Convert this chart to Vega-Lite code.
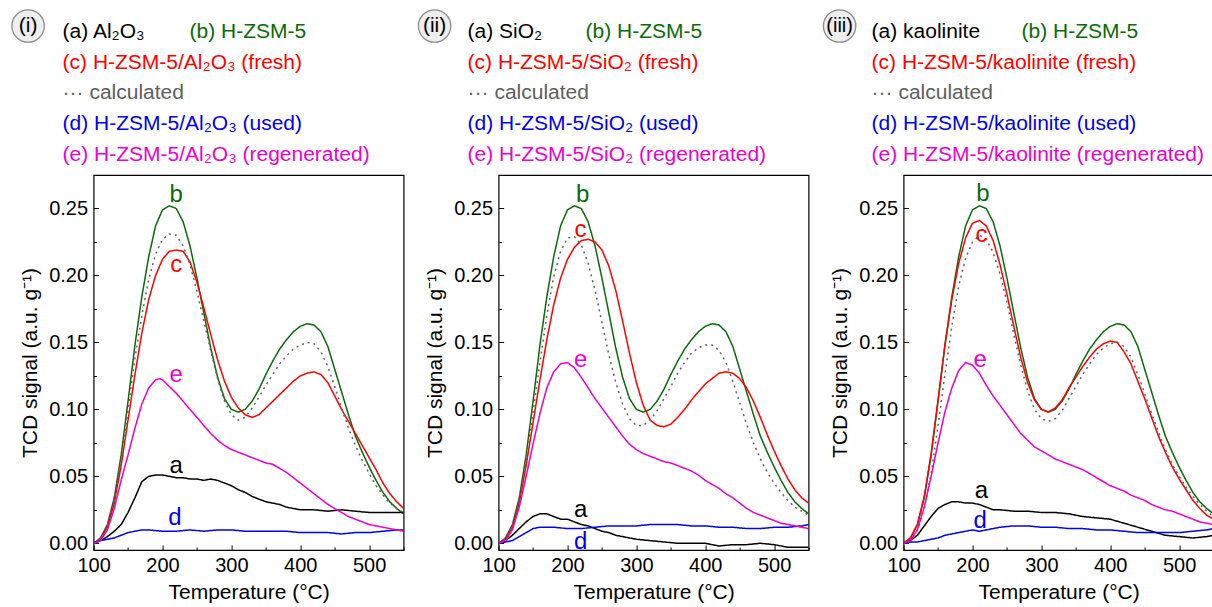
{
"$schema": "https://vega.github.io/schema/vega-lite/v6.json",
"background": "white",
"autosize": {"type": "pad"},
"padding": {"left": 8.6, "top": 0, "right": 0, "bottom": 0},
"config": {
  "font": "Liberation Sans",
  "view": {"stroke": "#000000", "strokeWidth": 1.2},
  "axis": {"domain": false, "grid": false, "tickColor": "#000000", "tickWidth": 1, "tickSize": -5, "labelColor": "#000000", "titleColor": "#000000", "labelFont": "Liberation Sans", "titleFont": "Liberation Sans", "labelFontSize": 20, "titleFontSize": 21, "titleFontWeight": "normal"}
},
"datasets": {
"legend": [
{"p":"i","line":1,"col":0,"txt":"(i)","s":"o"},
{"p":"i","line":1,"col":1,"txt":"(a) Al₂O₃","s":"a"},
{"p":"i","line":1,"col":2,"txt":"(b) H-ZSM-5","s":"b"},
{"p":"i","line":2,"col":1,"txt":"(c) H-ZSM-5/Al₂O₃ (fresh)","s":"c"},
{"p":"i","line":3,"col":1,"txt":"··· calculated","s":"k"},
{"p":"i","line":4,"col":1,"txt":"(d) H-ZSM-5/Al₂O₃ (used)","s":"d"},
{"p":"i","line":5,"col":1,"txt":"(e) H-ZSM-5/Al₂O₃ (regenerated)","s":"e"},
{"p":"ii","line":1,"col":0,"txt":"(ii)","s":"o"},
{"p":"ii","line":1,"col":1,"txt":"(a) SiO₂","s":"a"},
{"p":"ii","line":1,"col":2,"txt":"(b) H-ZSM-5","s":"b"},
{"p":"ii","line":2,"col":1,"txt":"(c) H-ZSM-5/SiO₂ (fresh)","s":"c"},
{"p":"ii","line":3,"col":1,"txt":"··· calculated","s":"k"},
{"p":"ii","line":4,"col":1,"txt":"(d) H-ZSM-5/SiO₂ (used)","s":"d"},
{"p":"ii","line":5,"col":1,"txt":"(e) H-ZSM-5/SiO₂ (regenerated)","s":"e"},
{"p":"iii","line":1,"col":0,"txt":"(iii)","s":"o"},
{"p":"iii","line":1,"col":1,"txt":"(a) kaolinite","s":"a"},
{"p":"iii","line":1,"col":2,"txt":"(b) H-ZSM-5","s":"b"},
{"p":"iii","line":2,"col":1,"txt":"(c) H-ZSM-5/kaolinite (fresh)","s":"c"},
{"p":"iii","line":3,"col":1,"txt":"··· calculated","s":"k"},
{"p":"iii","line":4,"col":1,"txt":"(d) H-ZSM-5/kaolinite (used)","s":"d"},
{"p":"iii","line":5,"col":1,"txt":"(e) H-ZSM-5/kaolinite (regenerated)","s":"e"}
],
"labels": [
{"p":"i","s":"b","t":220,"v":0.260},
{"p":"i","s":"c","t":220,"v":0.208},
{"p":"i","s":"e","t":220,"v":0.126},
{"p":"i","s":"a","t":220,"v":0.058},
{"p":"i","s":"d","t":218,"v":0.019},
{"p":"ii","s":"b","t":222,"v":0.260},
{"p":"ii","s":"c","t":219,"v":0.234},
{"p":"ii","s":"e","t":219,"v":0.137},
{"p":"ii","s":"a","t":219,"v":0.025},
{"p":"ii","s":"d","t":219,"v":0.001},
{"p":"iii","s":"b","t":215,"v":0.261},
{"p":"iii","s":"c","t":213,"v":0.230},
{"p":"iii","s":"e","t":211,"v":0.137},
{"p":"iii","s":"a","t":213,"v":0.039},
{"p":"iii","s":"d","t":211,"v":0.017}
],
"curves": [
{"p":"all","s":"b","t":100,"v":0.000},{"p":"all","s":"b","t":110,"v":0.004},{"p":"all","s":"b","t":120,"v":0.014},{"p":"all","s":"b","t":130,"v":0.034},{"p":"all","s":"b","t":140,"v":0.066},{"p":"all","s":"b","t":150,"v":0.106},{"p":"all","s":"b","t":160,"v":0.148},{"p":"all","s":"b","t":170,"v":0.184},{"p":"all","s":"b","t":180,"v":0.214},{"p":"all","s":"b","t":190,"v":0.237},{"p":"all","s":"b","t":200,"v":0.249},{"p":"all","s":"b","t":210,"v":0.252},{"p":"all","s":"b","t":220,"v":0.250},{"p":"all","s":"b","t":230,"v":0.240},{"p":"all","s":"b","t":240,"v":0.222},{"p":"all","s":"b","t":250,"v":0.198},{"p":"all","s":"b","t":260,"v":0.172},{"p":"all","s":"b","t":270,"v":0.146},{"p":"all","s":"b","t":280,"v":0.124},{"p":"all","s":"b","t":290,"v":0.108},{"p":"all","s":"b","t":300,"v":0.100},{"p":"all","s":"b","t":310,"v":0.098},{"p":"all","s":"b","t":320,"v":0.100},{"p":"all","s":"b","t":330,"v":0.106},{"p":"all","s":"b","t":340,"v":0.115},{"p":"all","s":"b","t":350,"v":0.126},{"p":"all","s":"b","t":360,"v":0.136},{"p":"all","s":"b","t":370,"v":0.145},{"p":"all","s":"b","t":380,"v":0.152},{"p":"all","s":"b","t":390,"v":0.158},{"p":"all","s":"b","t":400,"v":0.162},{"p":"all","s":"b","t":410,"v":0.164},{"p":"all","s":"b","t":420,"v":0.163},{"p":"all","s":"b","t":430,"v":0.158},{"p":"all","s":"b","t":440,"v":0.147},{"p":"all","s":"b","t":450,"v":0.130},{"p":"all","s":"b","t":460,"v":0.113},{"p":"all","s":"b","t":470,"v":0.096},{"p":"all","s":"b","t":480,"v":0.080},{"p":"all","s":"b","t":490,"v":0.068},{"p":"all","s":"b","t":500,"v":0.057},{"p":"all","s":"b","t":510,"v":0.047},{"p":"all","s":"b","t":520,"v":0.038},{"p":"all","s":"b","t":530,"v":0.031},{"p":"all","s":"b","t":540,"v":0.026},{"p":"all","s":"b","t":550,"v":0.022},

{"p":"i","s":"a","t":100,"v":0.000},{"p":"i","s":"a","t":110,"v":0.002},{"p":"i","s":"a","t":120,"v":0.005},{"p":"i","s":"a","t":130,"v":0.009},{"p":"i","s":"a","t":140,"v":0.014},{"p":"i","s":"a","t":150,"v":0.023},{"p":"i","s":"a","t":160,"v":0.034},{"p":"i","s":"a","t":170,"v":0.046},{"p":"i","s":"a","t":180,"v":0.050},{"p":"i","s":"a","t":190,"v":0.051},{"p":"i","s":"a","t":200,"v":0.051},{"p":"i","s":"a","t":210,"v":0.050},{"p":"i","s":"a","t":220,"v":0.049},{"p":"i","s":"a","t":230,"v":0.049},{"p":"i","s":"a","t":240,"v":0.048},{"p":"i","s":"a","t":250,"v":0.048},{"p":"i","s":"a","t":260,"v":0.047},{"p":"i","s":"a","t":270,"v":0.048},{"p":"i","s":"a","t":280,"v":0.047},{"p":"i","s":"a","t":290,"v":0.045},{"p":"i","s":"a","t":300,"v":0.043},{"p":"i","s":"a","t":310,"v":0.040},{"p":"i","s":"a","t":320,"v":0.038},{"p":"i","s":"a","t":330,"v":0.035},{"p":"i","s":"a","t":340,"v":0.033},{"p":"i","s":"a","t":350,"v":0.031},{"p":"i","s":"a","t":360,"v":0.030},{"p":"i","s":"a","t":370,"v":0.029},{"p":"i","s":"a","t":380,"v":0.027},{"p":"i","s":"a","t":390,"v":0.026},{"p":"i","s":"a","t":400,"v":0.025},{"p":"i","s":"a","t":420,"v":0.025},{"p":"i","s":"a","t":440,"v":0.024},{"p":"i","s":"a","t":460,"v":0.025},{"p":"i","s":"a","t":480,"v":0.024},{"p":"i","s":"a","t":500,"v":0.023},{"p":"i","s":"a","t":520,"v":0.023},{"p":"i","s":"a","t":540,"v":0.023},{"p":"i","s":"a","t":550,"v":0.023},

{"p":"i","s":"c","t":100,"v":0.000},{"p":"i","s":"c","t":110,"v":0.003},{"p":"i","s":"c","t":120,"v":0.012},{"p":"i","s":"c","t":130,"v":0.030},{"p":"i","s":"c","t":140,"v":0.058},{"p":"i","s":"c","t":150,"v":0.092},{"p":"i","s":"c","t":160,"v":0.126},{"p":"i","s":"c","t":170,"v":0.157},{"p":"i","s":"c","t":180,"v":0.182},{"p":"i","s":"c","t":190,"v":0.200},{"p":"i","s":"c","t":200,"v":0.212},{"p":"i","s":"c","t":210,"v":0.218},{"p":"i","s":"c","t":220,"v":0.219},{"p":"i","s":"c","t":230,"v":0.218},{"p":"i","s":"c","t":240,"v":0.210},{"p":"i","s":"c","t":250,"v":0.195},{"p":"i","s":"c","t":260,"v":0.176},{"p":"i","s":"c","t":270,"v":0.156},{"p":"i","s":"c","t":280,"v":0.137},{"p":"i","s":"c","t":290,"v":0.121},{"p":"i","s":"c","t":300,"v":0.109},{"p":"i","s":"c","t":310,"v":0.101},{"p":"i","s":"c","t":320,"v":0.096},{"p":"i","s":"c","t":330,"v":0.094},{"p":"i","s":"c","t":340,"v":0.096},{"p":"i","s":"c","t":350,"v":0.101},{"p":"i","s":"c","t":360,"v":0.106},{"p":"i","s":"c","t":370,"v":0.111},{"p":"i","s":"c","t":380,"v":0.116},{"p":"i","s":"c","t":390,"v":0.121},{"p":"i","s":"c","t":400,"v":0.125},{"p":"i","s":"c","t":410,"v":0.127},{"p":"i","s":"c","t":420,"v":0.128},{"p":"i","s":"c","t":430,"v":0.126},{"p":"i","s":"c","t":440,"v":0.120},{"p":"i","s":"c","t":450,"v":0.110},{"p":"i","s":"c","t":460,"v":0.100},{"p":"i","s":"c","t":470,"v":0.091},{"p":"i","s":"c","t":480,"v":0.082},{"p":"i","s":"c","t":490,"v":0.073},{"p":"i","s":"c","t":500,"v":0.064},{"p":"i","s":"c","t":510,"v":0.055},{"p":"i","s":"c","t":520,"v":0.045},{"p":"i","s":"c","t":530,"v":0.037},{"p":"i","s":"c","t":540,"v":0.031},{"p":"i","s":"c","t":550,"v":0.026},

{"p":"i","s":"k","t":100,"v":0.000},{"p":"i","s":"k","t":110,"v":0.003},{"p":"i","s":"k","t":120,"v":0.013},{"p":"i","s":"k","t":130,"v":0.032},{"p":"i","s":"k","t":140,"v":0.062},{"p":"i","s":"k","t":150,"v":0.100},{"p":"i","s":"k","t":160,"v":0.138},{"p":"i","s":"k","t":170,"v":0.170},{"p":"i","s":"k","t":180,"v":0.197},{"p":"i","s":"k","t":190,"v":0.216},{"p":"i","s":"k","t":200,"v":0.227},{"p":"i","s":"k","t":210,"v":0.231},{"p":"i","s":"k","t":220,"v":0.230},{"p":"i","s":"k","t":230,"v":0.222},{"p":"i","s":"k","t":240,"v":0.208},{"p":"i","s":"k","t":250,"v":0.188},{"p":"i","s":"k","t":260,"v":0.166},{"p":"i","s":"k","t":270,"v":0.144},{"p":"i","s":"k","t":280,"v":0.123},{"p":"i","s":"k","t":290,"v":0.106},{"p":"i","s":"k","t":300,"v":0.096},{"p":"i","s":"k","t":310,"v":0.092},{"p":"i","s":"k","t":320,"v":0.094},{"p":"i","s":"k","t":330,"v":0.101},{"p":"i","s":"k","t":340,"v":0.109},{"p":"i","s":"k","t":350,"v":0.118},{"p":"i","s":"k","t":360,"v":0.126},{"p":"i","s":"k","t":370,"v":0.134},{"p":"i","s":"k","t":380,"v":0.140},{"p":"i","s":"k","t":390,"v":0.145},{"p":"i","s":"k","t":400,"v":0.148},{"p":"i","s":"k","t":410,"v":0.150},{"p":"i","s":"k","t":420,"v":0.149},{"p":"i","s":"k","t":430,"v":0.143},{"p":"i","s":"k","t":440,"v":0.132},{"p":"i","s":"k","t":450,"v":0.117},{"p":"i","s":"k","t":460,"v":0.101},{"p":"i","s":"k","t":470,"v":0.086},{"p":"i","s":"k","t":480,"v":0.073},{"p":"i","s":"k","t":490,"v":0.062},{"p":"i","s":"k","t":500,"v":0.052},{"p":"i","s":"k","t":510,"v":0.043},{"p":"i","s":"k","t":520,"v":0.036},{"p":"i","s":"k","t":530,"v":0.030},{"p":"i","s":"k","t":540,"v":0.026},{"p":"i","s":"k","t":550,"v":0.023},

{"p":"i","s":"d","t":100,"v":0.000},{"p":"i","s":"d","t":110,"v":0.002},{"p":"i","s":"d","t":120,"v":0.003},{"p":"i","s":"d","t":130,"v":0.004},{"p":"i","s":"d","t":140,"v":0.006},{"p":"i","s":"d","t":150,"v":0.008},{"p":"i","s":"d","t":160,"v":0.009},{"p":"i","s":"d","t":170,"v":0.010},{"p":"i","s":"d","t":180,"v":0.010},{"p":"i","s":"d","t":200,"v":0.009},{"p":"i","s":"d","t":220,"v":0.009},{"p":"i","s":"d","t":240,"v":0.010},{"p":"i","s":"d","t":260,"v":0.009},{"p":"i","s":"d","t":280,"v":0.010},{"p":"i","s":"d","t":300,"v":0.010},{"p":"i","s":"d","t":320,"v":0.009},{"p":"i","s":"d","t":340,"v":0.009},{"p":"i","s":"d","t":360,"v":0.009},{"p":"i","s":"d","t":380,"v":0.009},{"p":"i","s":"d","t":400,"v":0.008},{"p":"i","s":"d","t":420,"v":0.008},{"p":"i","s":"d","t":440,"v":0.008},{"p":"i","s":"d","t":460,"v":0.007},{"p":"i","s":"d","t":480,"v":0.008},{"p":"i","s":"d","t":500,"v":0.008},{"p":"i","s":"d","t":520,"v":0.009},{"p":"i","s":"d","t":540,"v":0.010},{"p":"i","s":"d","t":550,"v":0.010},

{"p":"i","s":"e","t":100,"v":0.000},{"p":"i","s":"e","t":110,"v":0.002},{"p":"i","s":"e","t":120,"v":0.010},{"p":"i","s":"e","t":130,"v":0.026},{"p":"i","s":"e","t":140,"v":0.047},{"p":"i","s":"e","t":150,"v":0.066},{"p":"i","s":"e","t":160,"v":0.086},{"p":"i","s":"e","t":170,"v":0.104},{"p":"i","s":"e","t":180,"v":0.116},{"p":"i","s":"e","t":190,"v":0.122},{"p":"i","s":"e","t":196,"v":0.123},{"p":"i","s":"e","t":200,"v":0.122},{"p":"i","s":"e","t":210,"v":0.117},{"p":"i","s":"e","t":220,"v":0.112},{"p":"i","s":"e","t":230,"v":0.106},{"p":"i","s":"e","t":240,"v":0.100},{"p":"i","s":"e","t":250,"v":0.094},{"p":"i","s":"e","t":260,"v":0.088},{"p":"i","s":"e","t":270,"v":0.082},{"p":"i","s":"e","t":280,"v":0.077},{"p":"i","s":"e","t":290,"v":0.073},{"p":"i","s":"e","t":300,"v":0.070},{"p":"i","s":"e","t":310,"v":0.068},{"p":"i","s":"e","t":320,"v":0.066},{"p":"i","s":"e","t":330,"v":0.064},{"p":"i","s":"e","t":340,"v":0.062},{"p":"i","s":"e","t":350,"v":0.060},{"p":"i","s":"e","t":360,"v":0.059},{"p":"i","s":"e","t":370,"v":0.056},{"p":"i","s":"e","t":380,"v":0.053},{"p":"i","s":"e","t":390,"v":0.049},{"p":"i","s":"e","t":400,"v":0.045},{"p":"i","s":"e","t":410,"v":0.041},{"p":"i","s":"e","t":420,"v":0.037},{"p":"i","s":"e","t":430,"v":0.033},{"p":"i","s":"e","t":440,"v":0.029},{"p":"i","s":"e","t":450,"v":0.026},{"p":"i","s":"e","t":460,"v":0.023},{"p":"i","s":"e","t":470,"v":0.020},{"p":"i","s":"e","t":480,"v":0.018},{"p":"i","s":"e","t":490,"v":0.016},{"p":"i","s":"e","t":500,"v":0.014},{"p":"i","s":"e","t":510,"v":0.013},{"p":"i","s":"e","t":520,"v":0.012},{"p":"i","s":"e","t":530,"v":0.011},{"p":"i","s":"e","t":540,"v":0.010},{"p":"i","s":"e","t":550,"v":0.009},

{"p":"ii","s":"a","t":100,"v":0.000},{"p":"ii","s":"a","t":110,"v":0.002},{"p":"ii","s":"a","t":120,"v":0.006},{"p":"ii","s":"a","t":130,"v":0.011},{"p":"ii","s":"a","t":140,"v":0.016},{"p":"ii","s":"a","t":150,"v":0.020},{"p":"ii","s":"a","t":160,"v":0.022},{"p":"ii","s":"a","t":170,"v":0.022},{"p":"ii","s":"a","t":180,"v":0.020},{"p":"ii","s":"a","t":190,"v":0.018},{"p":"ii","s":"a","t":200,"v":0.018},{"p":"ii","s":"a","t":210,"v":0.016},{"p":"ii","s":"a","t":220,"v":0.014},{"p":"ii","s":"a","t":230,"v":0.013},{"p":"ii","s":"a","t":240,"v":0.011},{"p":"ii","s":"a","t":250,"v":0.009},{"p":"ii","s":"a","t":260,"v":0.008},{"p":"ii","s":"a","t":270,"v":0.006},{"p":"ii","s":"a","t":280,"v":0.005},{"p":"ii","s":"a","t":290,"v":0.004},{"p":"ii","s":"a","t":300,"v":0.003},{"p":"ii","s":"a","t":320,"v":0.002},{"p":"ii","s":"a","t":340,"v":0.001},{"p":"ii","s":"a","t":360,"v":0.000},{"p":"ii","s":"a","t":380,"v":0.000},{"p":"ii","s":"a","t":400,"v":0.000},{"p":"ii","s":"a","t":420,"v":-0.002},{"p":"ii","s":"a","t":440,"v":-0.001},{"p":"ii","s":"a","t":460,"v":-0.001},{"p":"ii","s":"a","t":480,"v":0.000},{"p":"ii","s":"a","t":500,"v":-0.001},{"p":"ii","s":"a","t":520,"v":-0.003},{"p":"ii","s":"a","t":540,"v":-0.003},{"p":"ii","s":"a","t":550,"v":-0.003},

{"p":"ii","s":"c","t":100,"v":0.000},{"p":"ii","s":"c","t":110,"v":0.003},{"p":"ii","s":"c","t":120,"v":0.012},{"p":"ii","s":"c","t":130,"v":0.030},{"p":"ii","s":"c","t":140,"v":0.058},{"p":"ii","s":"c","t":150,"v":0.090},{"p":"ii","s":"c","t":160,"v":0.122},{"p":"ii","s":"c","t":170,"v":0.152},{"p":"ii","s":"c","t":180,"v":0.178},{"p":"ii","s":"c","t":190,"v":0.198},{"p":"ii","s":"c","t":200,"v":0.212},{"p":"ii","s":"c","t":210,"v":0.221},{"p":"ii","s":"c","t":220,"v":0.226},{"p":"ii","s":"c","t":230,"v":0.227},{"p":"ii","s":"c","t":240,"v":0.225},{"p":"ii","s":"c","t":250,"v":0.219},{"p":"ii","s":"c","t":260,"v":0.207},{"p":"ii","s":"c","t":270,"v":0.189},{"p":"ii","s":"c","t":280,"v":0.166},{"p":"ii","s":"c","t":290,"v":0.142},{"p":"ii","s":"c","t":300,"v":0.120},{"p":"ii","s":"c","t":310,"v":0.103},{"p":"ii","s":"c","t":320,"v":0.092},{"p":"ii","s":"c","t":330,"v":0.088},{"p":"ii","s":"c","t":340,"v":0.087},{"p":"ii","s":"c","t":350,"v":0.089},{"p":"ii","s":"c","t":360,"v":0.094},{"p":"ii","s":"c","t":370,"v":0.100},{"p":"ii","s":"c","t":380,"v":0.107},{"p":"ii","s":"c","t":390,"v":0.113},{"p":"ii","s":"c","t":400,"v":0.119},{"p":"ii","s":"c","t":410,"v":0.123},{"p":"ii","s":"c","t":420,"v":0.127},{"p":"ii","s":"c","t":430,"v":0.128},{"p":"ii","s":"c","t":440,"v":0.127},{"p":"ii","s":"c","t":450,"v":0.123},{"p":"ii","s":"c","t":460,"v":0.116},{"p":"ii","s":"c","t":470,"v":0.106},{"p":"ii","s":"c","t":480,"v":0.094},{"p":"ii","s":"c","t":490,"v":0.081},{"p":"ii","s":"c","t":500,"v":0.069},{"p":"ii","s":"c","t":510,"v":0.058},{"p":"ii","s":"c","t":520,"v":0.048},{"p":"ii","s":"c","t":530,"v":0.040},{"p":"ii","s":"c","t":540,"v":0.034},{"p":"ii","s":"c","t":550,"v":0.030},

{"p":"ii","s":"k","t":100,"v":0.000},{"p":"ii","s":"k","t":110,"v":0.003},{"p":"ii","s":"k","t":120,"v":0.013},{"p":"ii","s":"k","t":130,"v":0.032},{"p":"ii","s":"k","t":140,"v":0.062},{"p":"ii","s":"k","t":150,"v":0.098},{"p":"ii","s":"k","t":160,"v":0.135},{"p":"ii","s":"k","t":170,"v":0.170},{"p":"ii","s":"k","t":180,"v":0.199},{"p":"ii","s":"k","t":190,"v":0.218},{"p":"ii","s":"k","t":200,"v":0.228},{"p":"ii","s":"k","t":210,"v":0.229},{"p":"ii","s":"k","t":220,"v":0.223},{"p":"ii","s":"k","t":230,"v":0.209},{"p":"ii","s":"k","t":240,"v":0.189},{"p":"ii","s":"k","t":250,"v":0.165},{"p":"ii","s":"k","t":260,"v":0.141},{"p":"ii","s":"k","t":270,"v":0.120},{"p":"ii","s":"k","t":280,"v":0.104},{"p":"ii","s":"k","t":290,"v":0.093},{"p":"ii","s":"k","t":300,"v":0.088},{"p":"ii","s":"k","t":310,"v":0.088},{"p":"ii","s":"k","t":320,"v":0.092},{"p":"ii","s":"k","t":330,"v":0.099},{"p":"ii","s":"k","t":340,"v":0.108},{"p":"ii","s":"k","t":350,"v":0.117},{"p":"ii","s":"k","t":360,"v":0.127},{"p":"ii","s":"k","t":370,"v":0.135},{"p":"ii","s":"k","t":380,"v":0.142},{"p":"ii","s":"k","t":390,"v":0.146},{"p":"ii","s":"k","t":400,"v":0.148},{"p":"ii","s":"k","t":410,"v":0.148},{"p":"ii","s":"k","t":420,"v":0.144},{"p":"ii","s":"k","t":430,"v":0.135},{"p":"ii","s":"k","t":440,"v":0.121},{"p":"ii","s":"k","t":450,"v":0.105},{"p":"ii","s":"k","t":460,"v":0.089},{"p":"ii","s":"k","t":470,"v":0.075},{"p":"ii","s":"k","t":480,"v":0.063},{"p":"ii","s":"k","t":490,"v":0.053},{"p":"ii","s":"k","t":500,"v":0.045},{"p":"ii","s":"k","t":510,"v":0.038},{"p":"ii","s":"k","t":520,"v":0.032},{"p":"ii","s":"k","t":530,"v":0.027},{"p":"ii","s":"k","t":540,"v":0.024},{"p":"ii","s":"k","t":550,"v":0.021},

{"p":"ii","s":"d","t":100,"v":0.000},{"p":"ii","s":"d","t":110,"v":0.001},{"p":"ii","s":"d","t":120,"v":0.002},{"p":"ii","s":"d","t":130,"v":0.005},{"p":"ii","s":"d","t":140,"v":0.008},{"p":"ii","s":"d","t":150,"v":0.011},{"p":"ii","s":"d","t":160,"v":0.012},{"p":"ii","s":"d","t":180,"v":0.012},{"p":"ii","s":"d","t":200,"v":0.011},{"p":"ii","s":"d","t":220,"v":0.011},{"p":"ii","s":"d","t":240,"v":0.012},{"p":"ii","s":"d","t":260,"v":0.013},{"p":"ii","s":"d","t":280,"v":0.013},{"p":"ii","s":"d","t":300,"v":0.013},{"p":"ii","s":"d","t":320,"v":0.014},{"p":"ii","s":"d","t":340,"v":0.014},{"p":"ii","s":"d","t":360,"v":0.014},{"p":"ii","s":"d","t":380,"v":0.013},{"p":"ii","s":"d","t":400,"v":0.013},{"p":"ii","s":"d","t":420,"v":0.012},{"p":"ii","s":"d","t":440,"v":0.012},{"p":"ii","s":"d","t":460,"v":0.011},{"p":"ii","s":"d","t":480,"v":0.011},{"p":"ii","s":"d","t":500,"v":0.012},{"p":"ii","s":"d","t":520,"v":0.012},{"p":"ii","s":"d","t":540,"v":0.013},{"p":"ii","s":"d","t":550,"v":0.014},

{"p":"ii","s":"e","t":100,"v":0.000},{"p":"ii","s":"e","t":110,"v":0.002},{"p":"ii","s":"e","t":120,"v":0.010},{"p":"ii","s":"e","t":130,"v":0.027},{"p":"ii","s":"e","t":140,"v":0.050},{"p":"ii","s":"e","t":150,"v":0.074},{"p":"ii","s":"e","t":160,"v":0.097},{"p":"ii","s":"e","t":170,"v":0.116},{"p":"ii","s":"e","t":180,"v":0.128},{"p":"ii","s":"e","t":190,"v":0.134},{"p":"ii","s":"e","t":200,"v":0.135},{"p":"ii","s":"e","t":210,"v":0.131},{"p":"ii","s":"e","t":220,"v":0.124},{"p":"ii","s":"e","t":230,"v":0.116},{"p":"ii","s":"e","t":240,"v":0.108},{"p":"ii","s":"e","t":250,"v":0.101},{"p":"ii","s":"e","t":260,"v":0.094},{"p":"ii","s":"e","t":270,"v":0.087},{"p":"ii","s":"e","t":280,"v":0.080},{"p":"ii","s":"e","t":290,"v":0.074},{"p":"ii","s":"e","t":300,"v":0.070},{"p":"ii","s":"e","t":310,"v":0.067},{"p":"ii","s":"e","t":320,"v":0.065},{"p":"ii","s":"e","t":330,"v":0.063},{"p":"ii","s":"e","t":340,"v":0.061},{"p":"ii","s":"e","t":350,"v":0.060},{"p":"ii","s":"e","t":360,"v":0.058},{"p":"ii","s":"e","t":370,"v":0.056},{"p":"ii","s":"e","t":380,"v":0.054},{"p":"ii","s":"e","t":390,"v":0.051},{"p":"ii","s":"e","t":400,"v":0.047},{"p":"ii","s":"e","t":410,"v":0.044},{"p":"ii","s":"e","t":420,"v":0.041},{"p":"ii","s":"e","t":430,"v":0.037},{"p":"ii","s":"e","t":440,"v":0.034},{"p":"ii","s":"e","t":450,"v":0.030},{"p":"ii","s":"e","t":460,"v":0.026},{"p":"ii","s":"e","t":470,"v":0.023},{"p":"ii","s":"e","t":480,"v":0.021},{"p":"ii","s":"e","t":490,"v":0.019},{"p":"ii","s":"e","t":500,"v":0.017},{"p":"ii","s":"e","t":510,"v":0.015},{"p":"ii","s":"e","t":520,"v":0.014},{"p":"ii","s":"e","t":530,"v":0.013},{"p":"ii","s":"e","t":540,"v":0.012},{"p":"ii","s":"e","t":550,"v":0.011},

{"p":"iii","s":"a","t":100,"v":0.000},{"p":"iii","s":"a","t":110,"v":0.002},{"p":"iii","s":"a","t":120,"v":0.006},{"p":"iii","s":"a","t":130,"v":0.013},{"p":"iii","s":"a","t":140,"v":0.020},{"p":"iii","s":"a","t":150,"v":0.026},{"p":"iii","s":"a","t":160,"v":0.029},{"p":"iii","s":"a","t":170,"v":0.031},{"p":"iii","s":"a","t":180,"v":0.031},{"p":"iii","s":"a","t":190,"v":0.030},{"p":"iii","s":"a","t":200,"v":0.030},{"p":"iii","s":"a","t":210,"v":0.029},{"p":"iii","s":"a","t":220,"v":0.027},{"p":"iii","s":"a","t":230,"v":0.025},{"p":"iii","s":"a","t":240,"v":0.025},{"p":"iii","s":"a","t":260,"v":0.024},{"p":"iii","s":"a","t":280,"v":0.024},{"p":"iii","s":"a","t":300,"v":0.023},{"p":"iii","s":"a","t":320,"v":0.023},{"p":"iii","s":"a","t":340,"v":0.022},{"p":"iii","s":"a","t":360,"v":0.020},{"p":"iii","s":"a","t":380,"v":0.019},{"p":"iii","s":"a","t":400,"v":0.018},{"p":"iii","s":"a","t":420,"v":0.015},{"p":"iii","s":"a","t":440,"v":0.012},{"p":"iii","s":"a","t":460,"v":0.009},{"p":"iii","s":"a","t":480,"v":0.006},{"p":"iii","s":"a","t":500,"v":0.005},{"p":"iii","s":"a","t":520,"v":0.004},{"p":"iii","s":"a","t":540,"v":0.005},{"p":"iii","s":"a","t":550,"v":0.006},

{"p":"iii","s":"c","t":100,"v":0.000},{"p":"iii","s":"c","t":110,"v":0.004},{"p":"iii","s":"c","t":120,"v":0.014},{"p":"iii","s":"c","t":130,"v":0.035},{"p":"iii","s":"c","t":140,"v":0.067},{"p":"iii","s":"c","t":150,"v":0.107},{"p":"iii","s":"c","t":160,"v":0.148},{"p":"iii","s":"c","t":170,"v":0.182},{"p":"iii","s":"c","t":180,"v":0.209},{"p":"iii","s":"c","t":190,"v":0.228},{"p":"iii","s":"c","t":200,"v":0.239},{"p":"iii","s":"c","t":210,"v":0.241},{"p":"iii","s":"c","t":220,"v":0.237},{"p":"iii","s":"c","t":230,"v":0.226},{"p":"iii","s":"c","t":240,"v":0.208},{"p":"iii","s":"c","t":250,"v":0.186},{"p":"iii","s":"c","t":260,"v":0.162},{"p":"iii","s":"c","t":270,"v":0.139},{"p":"iii","s":"c","t":280,"v":0.120},{"p":"iii","s":"c","t":290,"v":0.107},{"p":"iii","s":"c","t":300,"v":0.100},{"p":"iii","s":"c","t":310,"v":0.098},{"p":"iii","s":"c","t":320,"v":0.101},{"p":"iii","s":"c","t":330,"v":0.107},{"p":"iii","s":"c","t":340,"v":0.116},{"p":"iii","s":"c","t":350,"v":0.124},{"p":"iii","s":"c","t":360,"v":0.132},{"p":"iii","s":"c","t":370,"v":0.139},{"p":"iii","s":"c","t":380,"v":0.145},{"p":"iii","s":"c","t":390,"v":0.149},{"p":"iii","s":"c","t":400,"v":0.151},{"p":"iii","s":"c","t":410,"v":0.150},{"p":"iii","s":"c","t":420,"v":0.143},{"p":"iii","s":"c","t":430,"v":0.134},{"p":"iii","s":"c","t":440,"v":0.121},{"p":"iii","s":"c","t":450,"v":0.108},{"p":"iii","s":"c","t":460,"v":0.094},{"p":"iii","s":"c","t":470,"v":0.080},{"p":"iii","s":"c","t":480,"v":0.068},{"p":"iii","s":"c","t":490,"v":0.057},{"p":"iii","s":"c","t":500,"v":0.048},{"p":"iii","s":"c","t":510,"v":0.040},{"p":"iii","s":"c","t":520,"v":0.032},{"p":"iii","s":"c","t":530,"v":0.026},{"p":"iii","s":"c","t":540,"v":0.021},{"p":"iii","s":"c","t":550,"v":0.018},

{"p":"iii","s":"k","t":100,"v":0.000},{"p":"iii","s":"k","t":110,"v":0.003},{"p":"iii","s":"k","t":120,"v":0.010},{"p":"iii","s":"k","t":130,"v":0.026},{"p":"iii","s":"k","t":140,"v":0.052},{"p":"iii","s":"k","t":150,"v":0.088},{"p":"iii","s":"k","t":160,"v":0.126},{"p":"iii","s":"k","t":170,"v":0.162},{"p":"iii","s":"k","t":180,"v":0.192},{"p":"iii","s":"k","t":190,"v":0.213},{"p":"iii","s":"k","t":200,"v":0.225},{"p":"iii","s":"k","t":210,"v":0.230},{"p":"iii","s":"k","t":220,"v":0.227},{"p":"iii","s":"k","t":230,"v":0.217},{"p":"iii","s":"k","t":240,"v":0.201},{"p":"iii","s":"k","t":250,"v":0.180},{"p":"iii","s":"k","t":260,"v":0.156},{"p":"iii","s":"k","t":270,"v":0.133},{"p":"iii","s":"k","t":280,"v":0.114},{"p":"iii","s":"k","t":290,"v":0.100},{"p":"iii","s":"k","t":300,"v":0.093},{"p":"iii","s":"k","t":310,"v":0.091},{"p":"iii","s":"k","t":320,"v":0.093},{"p":"iii","s":"k","t":330,"v":0.099},{"p":"iii","s":"k","t":340,"v":0.108},{"p":"iii","s":"k","t":350,"v":0.117},{"p":"iii","s":"k","t":360,"v":0.126},{"p":"iii","s":"k","t":370,"v":0.134},{"p":"iii","s":"k","t":380,"v":0.141},{"p":"iii","s":"k","t":390,"v":0.146},{"p":"iii","s":"k","t":400,"v":0.149},{"p":"iii","s":"k","t":410,"v":0.150},{"p":"iii","s":"k","t":420,"v":0.147},{"p":"iii","s":"k","t":430,"v":0.139},{"p":"iii","s":"k","t":440,"v":0.126},{"p":"iii","s":"k","t":450,"v":0.112},{"p":"iii","s":"k","t":460,"v":0.097},{"p":"iii","s":"k","t":470,"v":0.083},{"p":"iii","s":"k","t":480,"v":0.070},{"p":"iii","s":"k","t":490,"v":0.059},{"p":"iii","s":"k","t":500,"v":0.050},{"p":"iii","s":"k","t":510,"v":0.042},{"p":"iii","s":"k","t":520,"v":0.035},{"p":"iii","s":"k","t":530,"v":0.029},{"p":"iii","s":"k","t":540,"v":0.024},{"p":"iii","s":"k","t":550,"v":0.020},

{"p":"iii","s":"d","t":100,"v":0.000},{"p":"iii","s":"d","t":110,"v":0.001},{"p":"iii","s":"d","t":120,"v":0.001},{"p":"iii","s":"d","t":130,"v":0.002},{"p":"iii","s":"d","t":140,"v":0.003},{"p":"iii","s":"d","t":150,"v":0.004},{"p":"iii","s":"d","t":160,"v":0.006},{"p":"iii","s":"d","t":170,"v":0.007},{"p":"iii","s":"d","t":180,"v":0.008},{"p":"iii","s":"d","t":190,"v":0.009},{"p":"iii","s":"d","t":200,"v":0.010},{"p":"iii","s":"d","t":210,"v":0.009},{"p":"iii","s":"d","t":220,"v":0.010},{"p":"iii","s":"d","t":240,"v":0.012},{"p":"iii","s":"d","t":260,"v":0.013},{"p":"iii","s":"d","t":280,"v":0.013},{"p":"iii","s":"d","t":300,"v":0.012},{"p":"iii","s":"d","t":320,"v":0.012},{"p":"iii","s":"d","t":340,"v":0.011},{"p":"iii","s":"d","t":360,"v":0.011},{"p":"iii","s":"d","t":380,"v":0.010},{"p":"iii","s":"d","t":400,"v":0.010},{"p":"iii","s":"d","t":420,"v":0.009},{"p":"iii","s":"d","t":440,"v":0.008},{"p":"iii","s":"d","t":460,"v":0.008},{"p":"iii","s":"d","t":480,"v":0.008},{"p":"iii","s":"d","t":500,"v":0.008},{"p":"iii","s":"d","t":520,"v":0.009},{"p":"iii","s":"d","t":540,"v":0.010},{"p":"iii","s":"d","t":550,"v":0.011},

{"p":"iii","s":"e","t":100,"v":0.000},{"p":"iii","s":"e","t":110,"v":0.002},{"p":"iii","s":"e","t":120,"v":0.010},{"p":"iii","s":"e","t":130,"v":0.027},{"p":"iii","s":"e","t":140,"v":0.050},{"p":"iii","s":"e","t":150,"v":0.075},{"p":"iii","s":"e","t":160,"v":0.098},{"p":"iii","s":"e","t":170,"v":0.116},{"p":"iii","s":"e","t":180,"v":0.129},{"p":"iii","s":"e","t":190,"v":0.135},{"p":"iii","s":"e","t":200,"v":0.133},{"p":"iii","s":"e","t":210,"v":0.127},{"p":"iii","s":"e","t":220,"v":0.118},{"p":"iii","s":"e","t":230,"v":0.110},{"p":"iii","s":"e","t":240,"v":0.103},{"p":"iii","s":"e","t":250,"v":0.096},{"p":"iii","s":"e","t":260,"v":0.089},{"p":"iii","s":"e","t":270,"v":0.082},{"p":"iii","s":"e","t":280,"v":0.077},{"p":"iii","s":"e","t":290,"v":0.072},{"p":"iii","s":"e","t":300,"v":0.069},{"p":"iii","s":"e","t":310,"v":0.066},{"p":"iii","s":"e","t":320,"v":0.063},{"p":"iii","s":"e","t":330,"v":0.061},{"p":"iii","s":"e","t":340,"v":0.059},{"p":"iii","s":"e","t":350,"v":0.057},{"p":"iii","s":"e","t":360,"v":0.055},{"p":"iii","s":"e","t":370,"v":0.052},{"p":"iii","s":"e","t":380,"v":0.049},{"p":"iii","s":"e","t":390,"v":0.046},{"p":"iii","s":"e","t":400,"v":0.043},{"p":"iii","s":"e","t":410,"v":0.041},{"p":"iii","s":"e","t":420,"v":0.039},{"p":"iii","s":"e","t":430,"v":0.036},{"p":"iii","s":"e","t":440,"v":0.034},{"p":"iii","s":"e","t":450,"v":0.032},{"p":"iii","s":"e","t":460,"v":0.029},{"p":"iii","s":"e","t":470,"v":0.027},{"p":"iii","s":"e","t":480,"v":0.025},{"p":"iii","s":"e","t":490,"v":0.024},{"p":"iii","s":"e","t":500,"v":0.022},{"p":"iii","s":"e","t":510,"v":0.020},{"p":"iii","s":"e","t":520,"v":0.018},{"p":"iii","s":"e","t":530,"v":0.016},{"p":"iii","s":"e","t":540,"v":0.015},{"p":"iii","s":"e","t":550,"v":0.014}
]
},
"columns": 3,
"spacing": {"row": 10, "column": 95},
"bounds": "flush",
"concat": [
  {
   "width": 310, "height": 165, "view": {"stroke": null},
   "data": {"name": "legend"},
   "transform": [{"filter": "datum.p == 'i'"}],
   "encoding": {
     "x": {"field": "col", "type": "quantitative", "scale": {"domain": [0, 1, 2], "range": [-65.5, -31, 96]}, "axis": null},
     "y": {"field": "line", "type": "quantitative", "scale": {"domain": [-0.04, 5.325], "reverse": true, "nice": false, "zero": false}, "axis": null}
   },
   "layer": [
     {"transform": [{"filter": "datum.col == 0"}], "mark": {"type": "point", "shape": "circle", "filled": true, "fill": "#eeeeee", "stroke": "#8c8c8c", "strokeWidth": 1.3, "size": 1050, "opacity": 1, "yOffset": -6}},
     {"transform": [{"filter": "datum.col == 0"}], "mark": {"type": "text", "align": "center", "baseline": "middle", "fontSize": 21, "yOffset": -6, "color": "#000000"}, "encoding": {"text": {"field": "txt"}}},
     {"transform": [{"filter": "datum.col > 0"}], "mark": {"type": "text", "align": "left", "baseline": "middle", "fontSize": 21}, "encoding": {"text": {"field": "txt"}, "color": {"field": "s", "type": "nominal", "scale": {"domain": ["a","b","c","k","d","e","o"], "range": ["#000000","#0a6a0a","#ff0000","#606060","#0000ee","#ee00cc","#000000"]}, "legend": null}}}
   ]
  },
  {
   "width": 310, "height": 165, "view": {"stroke": null},
   "data": {"name": "legend"},
   "transform": [{"filter": "datum.p == 'ii'"}],
   "encoding": {
     "x": {"field": "col", "type": "quantitative", "scale": {"domain": [0, 1, 2], "range": [-64, -31, 87]}, "axis": null},
     "y": {"field": "line", "type": "quantitative", "scale": {"domain": [-0.04, 5.325], "reverse": true, "nice": false, "zero": false}, "axis": null}
   },
   "layer": [
     {"transform": [{"filter": "datum.col == 0"}], "mark": {"type": "point", "shape": "circle", "filled": true, "fill": "#eeeeee", "stroke": "#8c8c8c", "strokeWidth": 1.3, "size": 1050, "opacity": 1, "yOffset": -6}},
     {"transform": [{"filter": "datum.col == 0"}], "mark": {"type": "text", "align": "center", "baseline": "middle", "fontSize": 21, "yOffset": -6, "color": "#000000"}, "encoding": {"text": {"field": "txt"}}},
     {"transform": [{"filter": "datum.col > 0"}], "mark": {"type": "text", "align": "left", "baseline": "middle", "fontSize": 21}, "encoding": {"text": {"field": "txt"}, "color": {"field": "s", "type": "nominal", "scale": {"domain": ["a","b","c","k","d","e","o"], "range": ["#000000","#0a6a0a","#ff0000","#606060","#0000ee","#ee00cc","#000000"]}, "legend": null}}}
   ]
  },
  {
   "width": 310, "height": 165, "view": {"stroke": null},
   "data": {"name": "legend"},
   "transform": [{"filter": "datum.p == 'iii'"}],
   "encoding": {
     "x": {"field": "col", "type": "quantitative", "scale": {"domain": [0, 1, 2], "range": [-64, -32, 118]}, "axis": null},
     "y": {"field": "line", "type": "quantitative", "scale": {"domain": [-0.04, 5.325], "reverse": true, "nice": false, "zero": false}, "axis": null}
   },
   "layer": [
     {"transform": [{"filter": "datum.col == 0"}], "mark": {"type": "point", "shape": "circle", "filled": true, "fill": "#eeeeee", "stroke": "#8c8c8c", "strokeWidth": 1.3, "size": 1050, "opacity": 1, "yOffset": -6}},
     {"transform": [{"filter": "datum.col == 0"}], "mark": {"type": "text", "align": "center", "baseline": "middle", "fontSize": 20, "yOffset": -6, "color": "#000000"}, "encoding": {"text": {"field": "txt"}}},
     {"transform": [{"filter": "datum.col > 0"}], "mark": {"type": "text", "align": "left", "baseline": "middle", "fontSize": 21}, "encoding": {"text": {"field": "txt"}, "color": {"field": "s", "type": "nominal", "scale": {"domain": ["a","b","c","k","d","e","o"], "range": ["#000000","#0a6a0a","#ff0000","#606060","#0000ee","#ee00cc","#000000"]}, "legend": null}}}
   ]
  },
  {
   "width": 310, "height": 375,
   "layer": [
    {"data": {"name": "curves"}, "transform": [{"filter": "datum.p == 'i' || datum.p == 'all'"}],
     "mark": {"type": "line", "strokeWidth": 1.5, "clip": true},
     "encoding": {
       "x": {"field": "t", "type": "quantitative", "scale": {"domain": [100, 550], "nice": false, "zero": false}, "axis": {"values": [100,200,300,400,500], "title": "Temperature (°C)", "labelPadding": 11, "titlePadding": 6, "labelFlush": false}},
       "y": {"field": "v", "type": "quantitative", "scale": {"domain": [-0.005, 0.275], "nice": false, "zero": false}, "axis": {"values": [0,0.05,0.1,0.15,0.2,0.25], "format": ".2f", "title": "TCD signal (a.u. g⁻¹)", "labelPadding": 11, "titlePadding": 8}},
       "color": {"field": "s", "type": "nominal", "scale": {"domain": ["a","b","c","k","d","e","o"], "range": ["#000000","#0a6a0a","#ff0000","#606060","#0000ee","#ee00cc","#000000"]}, "legend": null},
       "strokeDash": {"field": "s", "type": "nominal", "scale": {"domain": ["a","b","c","k","d","e"], "range": [[1,0],[1,0],[1,0],[2,4],[1,0],[1,0]]}, "legend": null}
     }},
    {"data": {"name": "labels"}, "transform": [{"filter": "datum.p == 'i'"}],
     "mark": {"type": "text", "fontSize": 24, "align": "center", "baseline": "middle"},
     "encoding": {
       "x": {"field": "t", "type": "quantitative", "scale": {"domain": [100, 550], "nice": false, "zero": false}, "axis": {"orient": "bottom", "values": [150,250,350,450,550], "labels": false, "title": null, "tickSize": -3}},
       "y": {"field": "v", "type": "quantitative", "scale": {"domain": [-0.005, 0.275], "nice": false, "zero": false}, "axis": {"orient": "left", "values": [0.025,0.075,0.125,0.175,0.225], "labels": false, "title": null, "tickSize": -3}},
       "text": {"field": "s"},
       "color": {"field": "s", "type": "nominal", "scale": {"domain": ["a","b","c","k","d","e","o"], "range": ["#000000","#0a6a0a","#ff0000","#606060","#0000ee","#ee00cc","#000000"]}, "legend": null}
     }}
   ],
   "resolve": {"axis": {"x": "independent", "y": "independent"}}
  },
  {
   "width": 310, "height": 375,
   "layer": [
    {"data": {"name": "curves"}, "transform": [{"filter": "datum.p == 'ii' || datum.p == 'all'"}],
     "mark": {"type": "line", "strokeWidth": 1.5, "clip": true},
     "encoding": {
       "x": {"field": "t", "type": "quantitative", "scale": {"domain": [100, 550], "nice": false, "zero": false}, "axis": {"values": [100,200,300,400,500], "title": "Temperature (°C)", "labelPadding": 11, "titlePadding": 6, "labelFlush": false}},
       "y": {"field": "v", "type": "quantitative", "scale": {"domain": [-0.005, 0.275], "nice": false, "zero": false}, "axis": {"values": [0,0.05,0.1,0.15,0.2,0.25], "format": ".2f", "title": "TCD signal (a.u. g⁻¹)", "labelPadding": 11, "titlePadding": 8}},
       "color": {"field": "s", "type": "nominal", "scale": {"domain": ["a","b","c","k","d","e","o"], "range": ["#000000","#0a6a0a","#ff0000","#606060","#0000ee","#ee00cc","#000000"]}, "legend": null},
       "strokeDash": {"field": "s", "type": "nominal", "scale": {"domain": ["a","b","c","k","d","e"], "range": [[1,0],[1,0],[1,0],[2,4],[1,0],[1,0]]}, "legend": null}
     }},
    {"data": {"name": "labels"}, "transform": [{"filter": "datum.p == 'ii'"}],
     "mark": {"type": "text", "fontSize": 24, "align": "center", "baseline": "middle"},
     "encoding": {
       "x": {"field": "t", "type": "quantitative", "scale": {"domain": [100, 550], "nice": false, "zero": false}, "axis": {"orient": "bottom", "values": [150,250,350,450,550], "labels": false, "title": null, "tickSize": -3}},
       "y": {"field": "v", "type": "quantitative", "scale": {"domain": [-0.005, 0.275], "nice": false, "zero": false}, "axis": {"orient": "left", "values": [0.025,0.075,0.125,0.175,0.225], "labels": false, "title": null, "tickSize": -3}},
       "text": {"field": "s"},
       "color": {"field": "s", "type": "nominal", "scale": {"domain": ["a","b","c","k","d","e","o"], "range": ["#000000","#0a6a0a","#ff0000","#606060","#0000ee","#ee00cc","#000000"]}, "legend": null}
     }}
   ],
   "resolve": {"axis": {"x": "independent", "y": "independent"}}
  },
  {
   "width": 310, "height": 375,
   "layer": [
    {"data": {"name": "curves"}, "transform": [{"filter": "datum.p == 'iii' || datum.p == 'all'"}],
     "mark": {"type": "line", "strokeWidth": 1.5, "clip": true},
     "encoding": {
       "x": {"field": "t", "type": "quantitative", "scale": {"domain": [100, 550], "nice": false, "zero": false}, "axis": {"values": [100,200,300,400,500], "title": "Temperature (°C)", "labelPadding": 11, "titlePadding": 6, "labelFlush": false}},
       "y": {"field": "v", "type": "quantitative", "scale": {"domain": [-0.005, 0.275], "nice": false, "zero": false}, "axis": {"values": [0,0.05,0.1,0.15,0.2,0.25], "format": ".2f", "title": "TCD signal (a.u. g⁻¹)", "labelPadding": 11, "titlePadding": 8}},
       "color": {"field": "s", "type": "nominal", "scale": {"domain": ["a","b","c","k","d","e","o"], "range": ["#000000","#0a6a0a","#ff0000","#606060","#0000ee","#ee00cc","#000000"]}, "legend": null},
       "strokeDash": {"field": "s", "type": "nominal", "scale": {"domain": ["a","b","c","k","d","e"], "range": [[1,0],[1,0],[1,0],[2,4],[1,0],[1,0]]}, "legend": null}
     }},
    {"data": {"name": "labels"}, "transform": [{"filter": "datum.p == 'iii'"}],
     "mark": {"type": "text", "fontSize": 24, "align": "center", "baseline": "middle"},
     "encoding": {
       "x": {"field": "t", "type": "quantitative", "scale": {"domain": [100, 550], "nice": false, "zero": false}, "axis": {"orient": "bottom", "values": [150,250,350,450,550], "labels": false, "title": null, "tickSize": -3}},
       "y": {"field": "v", "type": "quantitative", "scale": {"domain": [-0.005, 0.275], "nice": false, "zero": false}, "axis": {"orient": "left", "values": [0.025,0.075,0.125,0.175,0.225], "labels": false, "title": null, "tickSize": -3}},
       "text": {"field": "s"},
       "color": {"field": "s", "type": "nominal", "scale": {"domain": ["a","b","c","k","d","e","o"], "range": ["#000000","#0a6a0a","#ff0000","#606060","#0000ee","#ee00cc","#000000"]}, "legend": null}
     }}
   ],
   "resolve": {"axis": {"x": "independent", "y": "independent"}}
  }
]
}
